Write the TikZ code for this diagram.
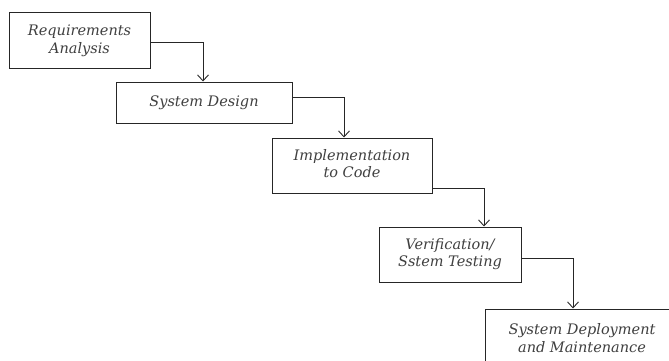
\documentclass[tikz,border=0pt]{standalone}
\usepackage{fontspec}
\setmainfont{DejaVu Serif}
\usetikzlibrary{arrows.meta}
\tikzset{
  stagebox/.style={draw=black!85, line width=1pt, fill=white, inner sep=0pt, font=\itshape\fontsize{14.5}{17.5}\selectfont, text=black!75},
  flow/.style={draw=black!85, line width=0.9pt, -{Straight Barb[length=6pt,width=11pt]}},
}
\newcommand{\stagetext}[1]{\raisebox{5pt}{\begin{tabular}{@{}c@{}}#1\end{tabular}}}
\begin{document}
\begin{tikzpicture}[x=1pt,y=-1pt]
\useasboundingbox (0,0) rectangle (669,361);
\clip (0,0) rectangle (669,361);
\node[stagebox, minimum width=141pt, minimum height=56pt] (b1) at (79.5,41) {\stagetext{Requirements\\Analysis}};
\node[stagebox, minimum width=176pt, minimum height=41pt] (b2) at (204,102.5) {\stagetext{System Design}};
\node[stagebox, minimum width=160pt, minimum height=55pt] (b3) at (352,165.5) {\stagetext{Implementation\\to Code}};
\node[stagebox, minimum width=142pt, minimum height=55pt] (b4) at (450,254.5) {\stagetext{Verification/\\Sstem Testing}};
\node[stagebox, minimum width=194pt, minimum height=62pt] (b5) at (582,340) {\stagetext{System Deployment\\and Maintenance}};
\draw[flow] ([yshift=-1pt]b1.east) -| ([xshift=-1pt]b2.north);
\draw[flow] ([yshift=5.5pt]b2.east) -| ([xshift=-8pt]b3.north);
\draw[flow] ([yshift=-22.5pt]b3.east) -| ([xshift=34pt]b4.north);
\draw[flow] ([yshift=-3.5pt]b4.east) -| ([xshift=-9pt]b5.north);
\end{tikzpicture}
\end{document}
